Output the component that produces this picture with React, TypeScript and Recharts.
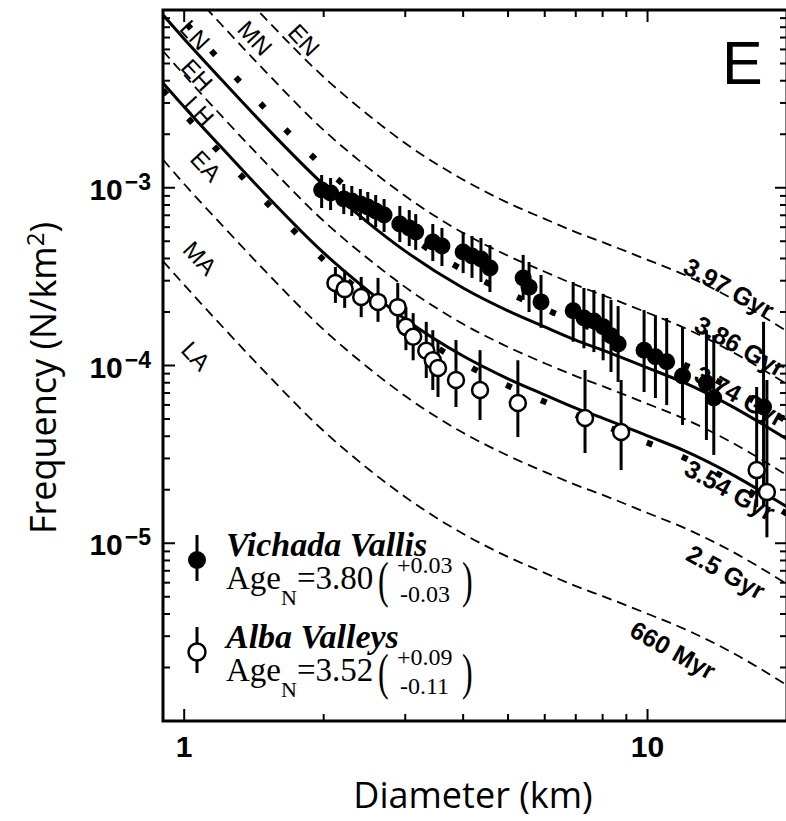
import { ComposedChart, Line, Scatter, ErrorBar, XAxis, YAxis, ReferenceArea } from 'recharts';

// plot box (px) inside the 786 x 821 picture
const PLOT_LEFT = 163;
const PLOT_TOP = 10;
const PLOT_RIGHT = 787;
const PLOT_BOTTOM = 721;

const isoD = [0.9, 1, 1.2, 1.5, 2, 2.5, 3, 4, 5, 6, 7, 8, 10, 12, 15, 20];

// isochrons, N/km^2
const iso397 = [3.8e-2, 2.78e-2, 1.66e-2, 8.91e-3, 4.2e-3, 2.56e-3, 1.78e-3, 1.11e-3, 8.22e-4, 6.68e-4, 5.63e-4, 4.94e-4, 3.93e-4, 3.24e-4, 2.43e-4, 1.56e-4];
const iso386 = [1.91e-2, 1.4e-2, 8.34e-3, 4.49e-3, 2.11e-3, 1.29e-3, 8.98e-4, 5.57e-4, 4.14e-4, 3.37e-4, 2.84e-4, 2.49e-4, 1.98e-4, 1.63e-4, 1.22e-4, 7.85e-5];
const isoUpperDots = [1.18e-2, 8.66e-3, 5.15e-3, 2.77e-3, 1.31e-3, 7.98e-4, 5.54e-4, 3.44e-4, 2.56e-4, 2.08e-4, 1.75e-4, 1.54e-4, 1.22e-4, 1.01e-4, 7.56e-5, 4.85e-5];
const fitVichada = [9.38e-3, 6.87e-3, 4.09e-3, 2.2e-3, 1.04e-3, 6.33e-4, 4.4e-4, 2.73e-4, 2.03e-4, 1.65e-4, 1.39e-4, 1.22e-4, 9.7e-5, 8.0e-5, 6.0e-5, 3.85e-5];
const iso374 = [5.88e-3, 4.31e-3, 2.56e-3, 1.38e-3, 6.5e-4, 3.97e-4, 2.76e-4, 1.71e-4, 1.27e-4, 1.03e-4, 8.72e-5, 7.65e-5, 6.08e-5, 5.02e-5, 3.76e-5, 2.41e-5];
const fitAlba = [3.89e-3, 2.85e-3, 1.7e-3, 9.12e-4, 4.3e-4, 2.62e-4, 1.82e-4, 1.13e-4, 8.42e-5, 6.84e-5, 5.76e-5, 5.06e-5, 4.02e-5, 3.32e-5, 2.49e-5, 1.6e-5];
const iso354 = [3.55e-3, 2.6e-3, 1.55e-3, 8.34e-4, 3.93e-4, 2.4e-4, 1.67e-4, 1.03e-4, 7.69e-5, 6.25e-5, 5.27e-5, 4.62e-5, 3.68e-5, 3.03e-5, 2.27e-5, 1.46e-5];
const iso250 = [1.44e-3, 1.05e-3, 6.26e-4, 3.37e-4, 1.59e-4, 9.68e-5, 6.73e-5, 4.18e-5, 3.11e-5, 2.52e-5, 2.13e-5, 1.87e-5, 1.48e-5, 1.22e-5, 9.18e-6, 5.89e-6];
const iso066 = [3.87e-4, 2.84e-4, 1.69e-4, 9.09e-5, 4.28e-5, 2.61e-5, 1.82e-5, 1.13e-5, 8.38e-6, 6.81e-6, 5.74e-6, 5.04e-6, 4.01e-6, 3.3e-6, 2.48e-6, 1.59e-6];

// Vichada Vallis (filled)
const vichadaD = [1.98, 2.07, 2.21, 2.3, 2.4, 2.49, 2.59, 2.7, 2.92, 3.06, 3.16, 3.44, 3.6, 4.0, 4.18, 4.37, 4.57, 5.39, 5.55, 5.89, 6.91, 7.29, 7.66, 8.02, 8.34, 8.64, 9.83, 10.4, 11.0, 11.9, 13.4, 13.9, 17.8];
const vichadaF = [9.71e-4, 9.34e-4, 8.64e-4, 8.42e-4, 8.1e-4, 7.8e-4, 7.4e-4, 7.02e-4, 6.25e-4, 5.94e-4, 5.64e-4, 4.95e-4, 4.7e-4, 4.35e-4, 4.13e-4, 3.97e-4, 3.54e-4, 3.11e-4, 2.76e-4, 2.28e-4, 2.03e-4, 1.85e-4, 1.78e-4, 1.65e-4, 1.47e-4, 1.32e-4, 1.22e-4, 1.12e-4, 1.05e-4, 8.73e-5, 7.97e-5, 6.56e-5, 5.84e-5];
const vichadaHi = [1.18e-3, 1.135e-3, 1.05e-3, 1.023e-3, 9.84e-4, 9.47e-4, 9.1e-4, 8.64e-4, 7.9e-4, 7.49e-4, 7.11e-4, 6.25e-4, 5.94e-4, 5.64e-4, 5.35e-4, 5.22e-4, 4.76e-4, 4.19e-4, 3.82e-4, 3.23e-4, 2.95e-4, 2.73e-4, 2.66e-4, 2.53e-4, 2.34e-4, 2.16e-4, 2.05e-4, 1.92e-4, 1.85e-4, 1.65e-4, 1.58e-4, 1.48e-4, 1.76e-4];
const vichadaLo = [7.69e-4, 7.49e-4, 7.11e-4, 6.93e-4, 6.58e-4, 6.33e-4, 6.01e-4, 5.64e-4, 4.95e-4, 4.7e-4, 4.47e-4, 3.87e-4, 3.63e-4, 3.31e-4, 3.11e-4, 2.95e-4, 2.59e-4, 2.34e-4, 2.0e-4, 1.63e-4, 1.36e-4, 1.25e-4, 1.19e-4, 1.07e-4, 9.19e-5, 8.08e-5, 7.09e-5, 6.56e-5, 5.99e-5, 4.63e-5, 3.81e-5, 3.14e-5, 1.64e-5];

// Alba Valleys (open)
const albaD = [2.12, 2.22, 2.41, 2.62, 2.89, 3.01, 3.12, 3.33, 3.44, 3.53, 3.86, 4.35, 5.25, 7.33, 8.77, 17.2, 18.1];
const albaF = [2.91e-4, 2.69e-4, 2.43e-4, 2.28e-4, 2.13e-4, 1.65e-4, 1.45e-4, 1.21e-4, 1.07e-4, 9.68e-5, 8.29e-5, 7.28e-5, 6.15e-5, 5.07e-5, 4.23e-5, 2.58e-5, 1.94e-5];
const albaHi = [3.58e-4, 3.45e-4, 3.15e-4, 3.11e-4, 2.91e-4, 2.13e-4, 1.97e-4, 1.76e-4, 1.58e-4, 1.39e-4, 1.39e-4, 1.22e-4, 1.07e-4, 9.43e-5, 8.29e-5, 7.57e-5, 8.29e-5];
const albaLo = [2.25e-4, 2.11e-4, 1.87e-4, 1.76e-4, 1.63e-4, 1.22e-4, 1.07e-4, 8.5e-5, 7.28e-5, 6.65e-5, 5.84e-5, 4.94e-5, 3.96e-5, 3.22e-5, 2.58e-5, 1.6e-5, 1.08e-5];

const xTicks = [1, 2, 3, 4, 5, 6, 7, 8, 9, 10, 20];
const yDecades = [1e-6, 1e-5, 1e-4, 1e-3];
const yTicks = [...yDecades.flatMap((d) => [1, 2, 3, 4, 5, 6, 7, 8, 9].map((m) => m * d)), 1e-2];

const epochLabels = [
  { text: 'LN', x: 195, y: 35 },
  { text: 'MN', x: 255, y: 38 },
  { text: 'EN', x: 304, y: 40 },
  { text: 'EH', x: 197, y: 75 },
  { text: 'LH', x: 199, y: 111 },
  { text: 'EA', x: 206, y: 166 },
  { text: 'MA', x: 200, y: 258 },
  { text: 'LA', x: 196, y: 356 },
];

const ageLabels = [
  { text: '3.97 Gyr', x: 729, y: 288 },
  { text: '3.86 Gyr', x: 740, y: 346 },
  { text: '3.74 Gyr', x: 740, y: 396 },
  { text: '3.54 Gyr', x: 730, y: 490 },
  { text: '2.5 Gyr', x: 726, y: 572 },
  { text: '660 Myr', x: 673, y: 650 },
];

const curve = (fs: number[]) => isoD.map((d, i) => ({ d, f: fs[i] }));
const points = (ds: number[], fs: number[], lo: number[], hi: number[]) =>
  ds.map((d, i) => ({ d, f: fs[i], err: [fs[i] - lo[i], hi[i] - fs[i]] }));

const vichada = points(vichadaD, vichadaF, vichadaLo, vichadaHi);
const alba = points(albaD, albaF, albaLo, albaHi);

const SANS = "'Liberation Sans', Arial, sans-serif";
const SERIF = "'Liberation Serif', 'Times New Roman', serif";

const isDecade = (v: number) => {
  const l = Math.log10(v);
  return Math.abs(l - Math.round(l)) < 1e-6;
};

function XTick(props: any) {
  const { x, payload } = props;
  const v = payload.value;
  const major = isDecade(v);
  const len = major ? 12 : 7;
  return (
    <g>
      <line x1={x} x2={x} y1={PLOT_BOTTOM} y2={PLOT_BOTTOM - len} stroke="#000" strokeWidth={2} />
      <line x1={x} x2={x} y1={PLOT_TOP} y2={PLOT_TOP + len} stroke="#000" strokeWidth={2} />
      {major && (
        <text x={x} y={PLOT_BOTTOM + 36} textAnchor="middle" fontFamily={SANS} fontWeight="bold" fontSize={30} fill="#000">
          {v}
        </text>
      )}
    </g>
  );
}

function YTick(props: any) {
  const { y, payload } = props;
  const v = payload.value;
  const major = isDecade(v);
  const exp = Math.round(Math.log10(v));
  const len = major ? 12 : 7;
  return (
    <g>
      <line x1={PLOT_LEFT} x2={PLOT_LEFT + len} y1={y} y2={y} stroke="#000" strokeWidth={2} />
      <line x1={PLOT_RIGHT} x2={PLOT_RIGHT - len} y1={y} y2={y} stroke="#000" strokeWidth={2} />
      {major && exp > -6 && exp < -2 && (
        <text x={151} y={y + 12} textAnchor="end" fontFamily={SANS} fontWeight="bold" fontSize={30} fill="#000">
          10
          <tspan fontSize={23} dx={2} dy={-10}>{'\u2212' + Math.abs(exp)}</tspan>
        </text>
      )}
    </g>
  );
}

const filledDot = (p: any) => <circle cx={p.cx} cy={p.cy} r={8.5} fill="#000" />;
const openDot = (p: any) => <circle cx={p.cx} cy={p.cy} r={8} fill="#fff" stroke="#000" strokeWidth={2.5} />;

function LegendEntry({ y, filled, name, age, plus, minus }: any) {
  return (
    <g>
      <line x1={197} x2={197} y1={y - 25} y2={y + 21} stroke="#000" strokeWidth={3} />
      {filled ? (
        <circle cx={197} cy={y} r={9} fill="#000" />
      ) : (
        <circle cx={197} cy={y} r={8.5} fill="#fff" stroke="#000" strokeWidth={2.5} />
      )}
      <text x={226} y={y - 4} fontFamily={SERIF} fontWeight="bold" fontStyle="italic" fontSize={34} fill="#000">
        {name}
      </text>
      <text x={226} y={y + 29} fontFamily={SERIF} fontSize={33} fill="#000">
        Age
        <tspan fontSize={22} dy={16}>N</tspan>
        <tspan dy={-16}>={age}</tspan>
      </text>
      <text transform={`translate(378,${y + 37}) scale(1,1.6)`} fontFamily={SERIF} fontSize={32} fill="#000">(</text>
      <text x={397} y={y + 13} fontFamily={SERIF} fontSize={24} fill="#000">{plus}</text>
      <text x={400} y={y + 42} fontFamily={SERIF} fontSize={24} fill="#000">{minus}</text>
      <text transform={`translate(462,${y + 37}) scale(1,1.6)`} fontFamily={SERIF} fontSize={32} fill="#000">)</text>
    </g>
  );
}

export default function App() {
  const dashed = { stroke: '#000', strokeWidth: 1.8, strokeDasharray: '10 6', dot: false, activeDot: false, isAnimationActive: false, type: 'monotone' as const };
  return (
    <div style={{ position: 'absolute', left: 0, top: 0, width: 786, height: 821, overflow: 'hidden', background: '#fff' }}>
      <ComposedChart width={788} height={821} margin={{ top: PLOT_TOP, right: 1, bottom: 0, left: 0 }}>
        <XAxis
          type="number"
          dataKey="d"
          scale="log"
          domain={[0.9, 20]}
          allowDataOverflow
          ticks={xTicks}
          interval={0}
          tick={(p: any) => <XTick {...p} />}
          tickLine={false}
          axisLine={false}
          tickSize={0}
          tickMargin={0}
          height={100}
        />
        <YAxis
          type="number"
          scale="log"
          domain={[1e-6, 1e-2]}
          allowDataOverflow
          ticks={yTicks}
          interval={0}
          tick={(p: any) => <YTick {...p} />}
          tickLine={false}
          axisLine={false}
          tickSize={0}
          tickMargin={0}
          width={PLOT_LEFT}
        />
        <Line data={curve(iso397)} dataKey="f" {...dashed} />
        <Line data={curve(iso386)} dataKey="f" {...dashed} />
        <Line data={curve(iso374)} dataKey="f" {...dashed} />
        <Line data={curve(iso250)} dataKey="f" {...dashed} />
        <Line data={curve(iso066)} dataKey="f" {...dashed} />
        <Line data={curve(isoUpperDots)} dataKey="f" type="monotone" stroke="#000" strokeWidth={6} strokeDasharray="6 30" dot={false} activeDot={false} isAnimationActive={false} />
        <Line data={curve(iso354)} dataKey="f" type="monotone" stroke="#000" strokeWidth={6} strokeDasharray="6 32" dot={false} activeDot={false} isAnimationActive={false} />
        <Line data={curve(fitVichada)} dataKey="f" type="monotone" stroke="#000" strokeWidth={3} dot={false} activeDot={false} isAnimationActive={false} />
        <Line data={curve(fitAlba)} dataKey="f" type="monotone" stroke="#000" strokeWidth={3} dot={false} activeDot={false} isAnimationActive={false} />
        <Scatter data={vichada} dataKey="f" shape={filledDot} isAnimationActive={false}>
          <ErrorBar dataKey="err" direction="y" width={0} stroke="#000" strokeWidth={3} />
        </Scatter>
        <Scatter data={alba} dataKey="f" shape={openDot} isAnimationActive={false}>
          <ErrorBar dataKey="err" direction="y" width={0} stroke="#000" strokeWidth={3} />
        </Scatter>
        <ReferenceArea x1={0.9} x2={20} y1={1e-6} y2={1e-2} fill="none" stroke="#000" strokeWidth={3} />
      </ComposedChart>
      <svg width={786} height={821} style={{ position: 'absolute', left: 0, top: 0, pointerEvents: 'none' }}>
        {epochLabels.map((l) => (
          <text key={l.text} x={l.x} y={l.y} transform={`rotate(47 ${l.x} ${l.y})`} textAnchor="middle" dominantBaseline="central" fontFamily={SANS} fontSize={24} fill="#000">
            {l.text}
          </text>
        ))}
        {ageLabels.map((l) => (
          <text key={l.text} x={l.x} y={l.y} transform={`rotate(29 ${l.x} ${l.y})`} textAnchor="middle" dominantBaseline="central" fontFamily={SANS} fontWeight="bold" fontSize={25} fill="#000">
            {l.text}
          </text>
        ))}
        <text x={722} y={84} fontFamily={SANS} fontSize={61} fill="#000">E</text>
        <text x={473} y={808} textAnchor="middle" fontFamily="'Open Sans', sans-serif" fontSize={36} fill="#000">
          Diameter (km)
        </text>
        <text transform="translate(56,378) rotate(-90)" textAnchor="middle" fontFamily="'Open Sans', sans-serif" fontSize={36} fill="#000">
          Frequency (N/km<tspan fontSize={24} dy={-12}>2</tspan><tspan dy={12}>)</tspan>
        </text>
        <LegendEntry y={560} filled name="Vichada Vallis" age="3.80" plus="+0.03" minus="-0.03" />
        <LegendEntry y={652} filled={false} name="Alba Valleys" age="3.52" plus="+0.09" minus="-0.11" />
      </svg>
    </div>
  );
}
